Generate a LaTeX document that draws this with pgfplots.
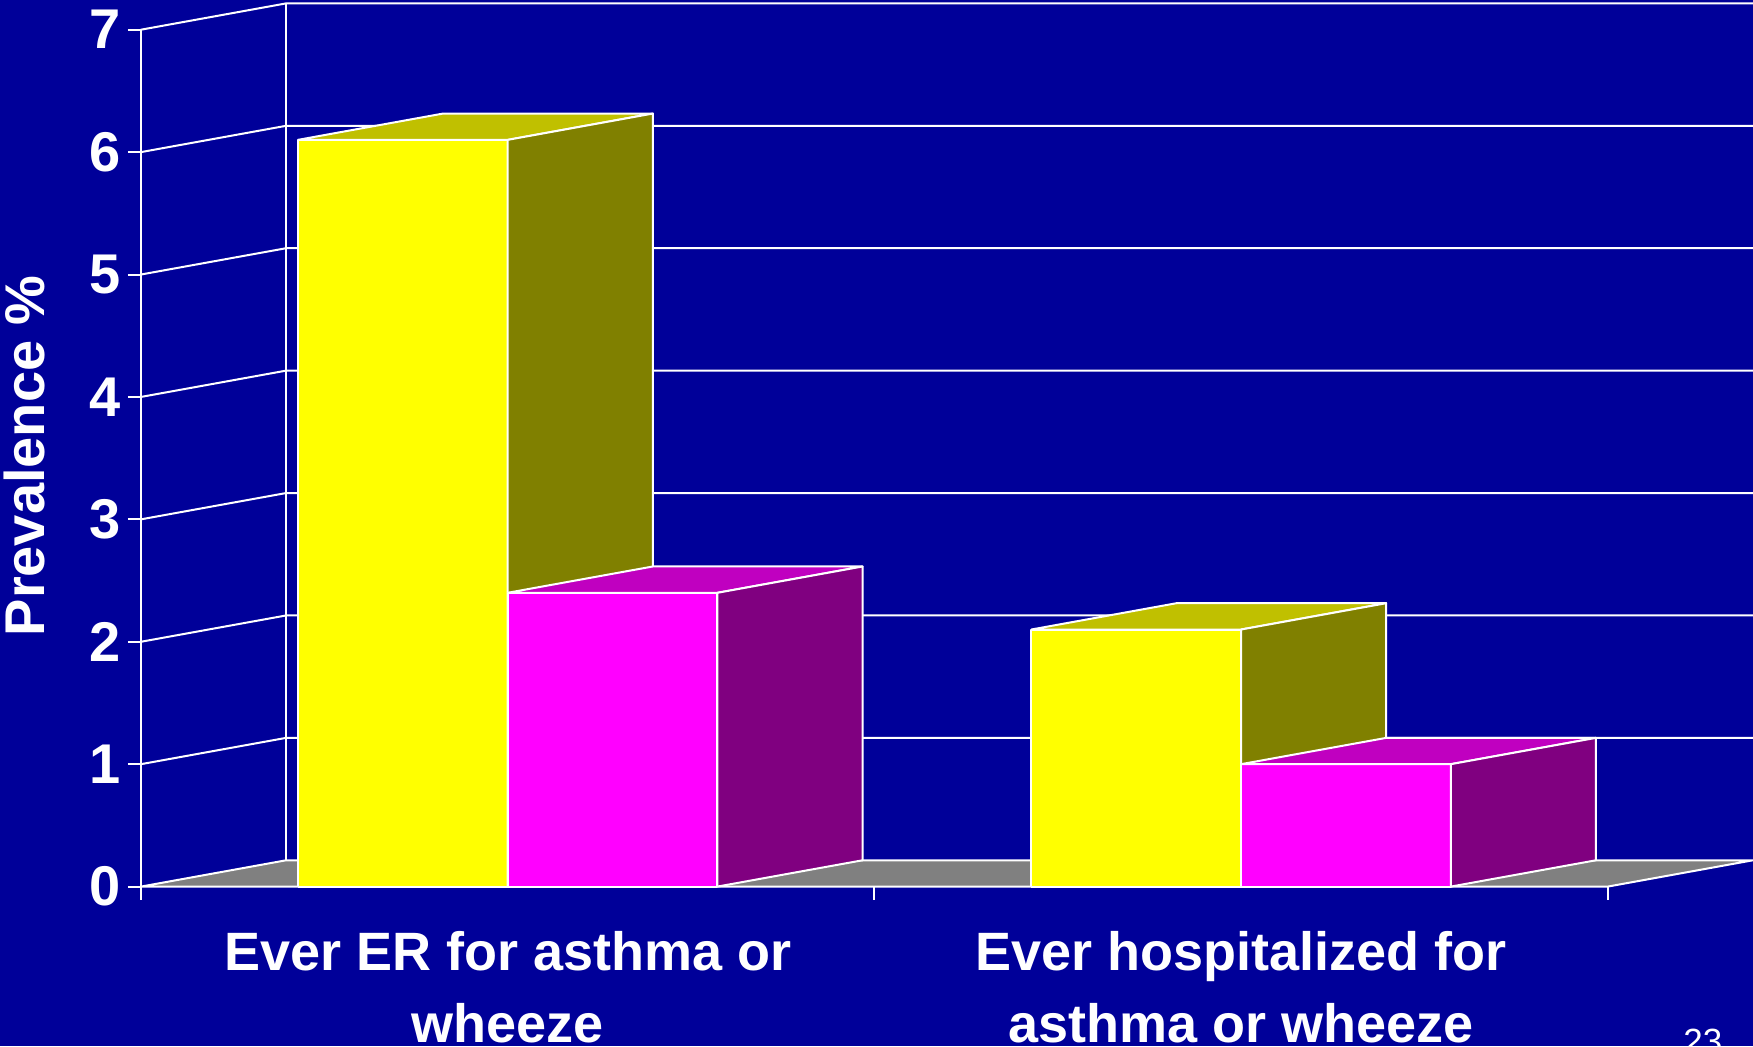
\documentclass[border=0pt]{standalone}
\usepackage{pgfplots}
\pgfplotsset{compat=1.18}
\usepackage{fontspec}
\setmainfont{Liberation Sans}
\definecolor{bgblue}{RGB}{0,0,153}
\definecolor{yfront}{RGB}{255,255,0}
\definecolor{ytop}{RGB}{192,192,0}
\definecolor{yside}{RGB}{128,128,0}
\definecolor{mfront}{RGB}{255,0,255}
\definecolor{mtop}{RGB}{192,0,192}
\definecolor{mside}{RGB}{128,0,128}
\definecolor{floorgray}{RGB}{128,128,128}
\begin{document}
\begin{tikzpicture}
\useasboundingbox (0,0) rectangle (876.5pt,523pt);
\fill[bgblue] (0,0) rectangle (876.5pt,523pt);
\begin{axis}[
  at={(70.45pt,79.7pt)}, anchor=south west, scale only axis,
  width=806pt, height=441.6pt,
  xmin=0, xmax=2.198, ymin=0, ymax=7.215,
  enlargelimits=false, clip=false,
  axis line style={draw=none},
  tick align=outside, major tick length=6.5pt,
  tick style={white, line width=1pt},
  xtick pos=bottom, ytick pos=left,
  xtick={0,1,2}, xticklabels={},
  ytick={0,1,2,3,4,5,6,7}, yticklabels={0,1,2,3,4,5,6,7},
  yticklabel style={font=\bfseries\fontsize{28}{30}\selectfont, text=white},
  wl/.style={draw=white, line width=1pt, line join=round},
]
% back wall grid
\addplot[wl] coordinates {(0,1)(0.198,1.215)(2.198,1.215)};
\addplot[wl] coordinates {(0,2)(0.198,2.215)(2.198,2.215)};
\addplot[wl] coordinates {(0,3)(0.198,3.215)(2.198,3.215)};
\addplot[wl] coordinates {(0,4)(0.198,4.215)(2.198,4.215)};
\addplot[wl] coordinates {(0,5)(0.198,5.215)(2.198,5.215)};
\addplot[wl] coordinates {(0,6)(0.198,6.215)(2.198,6.215)};
\addplot[wl] coordinates {(0,7)(0.198,7.215)(2.198,7.215)};
\addplot[wl] coordinates {(0.198,0.215)(0.198,7.215)};
\addplot[wl] coordinates {(0,0)(0,7)};
% floor
\addplot[wl, fill=floorgray] coordinates {(0,0)(2,0)(2.198,0.215)(0.198,0.215)(0,0)};
% ER: yellow 6.1
\addplot[wl, fill=yfront] coordinates {(0.214,0)(0.5,0)(0.5,6.1)(0.214,6.1)(0.214,0)};
\addplot[wl, fill=ytop] coordinates {(0.214,6.1)(0.5,6.1)(0.698,6.315)(0.412,6.315)(0.214,6.1)};
\addplot[wl, fill=yside] coordinates {(0.5,0)(0.698,0.215)(0.698,6.315)(0.5,6.1)(0.5,0)};
% ER: magenta 2.4
\addplot[wl, fill=mfront] coordinates {(0.5,0)(0.786,0)(0.786,2.4)(0.5,2.4)(0.5,0)};
\addplot[wl, fill=mtop] coordinates {(0.5,2.4)(0.786,2.4)(0.984,2.615)(0.698,2.615)(0.5,2.4)};
\addplot[wl, fill=mside] coordinates {(0.786,0)(0.984,0.215)(0.984,2.615)(0.786,2.4)(0.786,0)};
% Hosp: yellow 2.1
\addplot[wl, fill=yfront] coordinates {(1.214,0)(1.5,0)(1.5,2.1)(1.214,2.1)(1.214,0)};
\addplot[wl, fill=ytop] coordinates {(1.214,2.1)(1.5,2.1)(1.698,2.315)(1.412,2.315)(1.214,2.1)};
\addplot[wl, fill=yside] coordinates {(1.5,0)(1.698,0.215)(1.698,2.315)(1.5,2.1)(1.5,0)};
% Hosp: magenta 1.0
\addplot[wl, fill=mfront] coordinates {(1.5,0)(1.786,0)(1.786,1.0)(1.5,1.0)(1.5,0)};
\addplot[wl, fill=mtop] coordinates {(1.5,1.0)(1.786,1.0)(1.984,1.215)(1.698,1.215)(1.5,1.0)};
\addplot[wl, fill=mside] coordinates {(1.786,0)(1.984,0.215)(1.984,1.215)(1.786,1.0)(1.786,0)};
% labels
\node[anchor=base, text=white, font=\bfseries\fontsize{27}{30}\selectfont, inner sep=0pt] at (axis cs:0.5,0) [yshift=-41.7pt] {Ever ER for asthma or};
\node[anchor=base, text=white, font=\bfseries\fontsize{27}{30}\selectfont, inner sep=0pt] at (axis cs:0.5,0) [yshift=-77.7pt] {wheeze};
\node[anchor=base, text=white, font=\bfseries\fontsize{27}{30}\selectfont, inner sep=0pt] at (axis cs:1.5,0) [yshift=-41.7pt] {Ever hospitalized for};
\node[anchor=base, text=white, font=\bfseries\fontsize{27}{30}\selectfont, inner sep=0pt] at (axis cs:1.5,0) [yshift=-77.7pt] {asthma or wheeze};
\node[rotate=90, text=white, font=\bfseries\fontsize{28}{30}\selectfont, inner sep=0pt] at (axis cs:-0.1586,3.52) {Prevalence \%};
\end{axis}
\node[anchor=north west, text=white, font=\fontsize{17.5}{20}\selectfont, inner sep=0pt] at (841.5pt,8.5pt) {23};
\end{tikzpicture}
\end{document}
